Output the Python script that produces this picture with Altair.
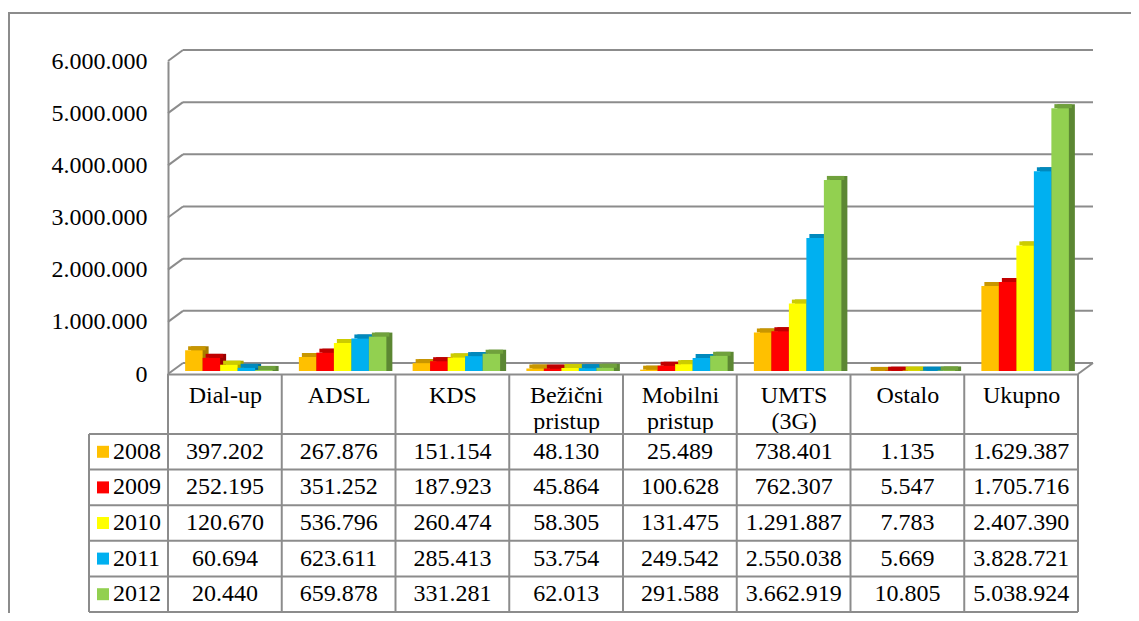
import altair as alt
import pandas as pd

# ---------------- data ----------------
categories = ["Dial-up", "ADSL", "KDS", "Bežični\npristup", "Mobilni\npristup",
              "UMTS\n(3G)", "Ostalo", "Ukupno"]
years = ["2008", "2009", "2010", "2011", "2012"]
v2008 = [397202, 267876, 151154, 48130, 25489, 738401, 1135, 1629387]
v2009 = [252195, 351252, 187923, 45864, 100628, 762307, 5547, 1705716]
v2010 = [120670, 536796, 260474, 58305, 131475, 1291887, 7783, 2407390]
v2011 = [60694, 623611, 285413, 53754, 249542, 2550038, 5669, 3828721]
v2012 = [20440, 659878, 331281, 62013, 291588, 3662919, 10805, 5038924]
y_ticks = [0, 1000000, 2000000, 3000000, 4000000, 5000000, 6000000]

colors_front = ["#FFC000", "#FF0000", "#FFFF00", "#00B0F0", "#92D050"]
colors_top = ["#C89600", "#C00000", "#CCCC00", "#0089BD", "#70A13C"]
colors_side = ["#A67C00", "#9A0000", "#A6A600", "#006F9A", "#5C8733"]

series = dict(zip(years, [v2008, v2009, v2010, v2011, v2012]))
df = pd.DataFrame([{"cat": c, "year": y, "value": v}
                   for y in years for c, v in zip(categories, series[y])])
ticks_df = pd.DataFrame({"value": y_ticks})
cats_df = pd.DataFrame({"cat": categories})
years_df = pd.DataFrame({"year": years})
one = pd.DataFrame({"value": [0]})

# ---------------- layout / style ----------------
W, H = 910, 313          # front plane of the plot
DX, DY = 15, 11          # depth of the back wall
BX, BY = 4, 3            # depth of bar front faces
TX, TY = 6, 4            # bar depth (top / side faces)
ROW_TOP, ROW_BOT = 373, 551
GRAY = "#8C8C8C"
FONT = "'Liberation Serif', 'Times New Roman', Times, serif"
FS = 24
fmt = "replace(format(datum.value, ','), regexp(',', 'g'), '.')"


def xs(shift=0):
    return alt.Scale(domain=categories, range=[shift, W + shift],
                     paddingInner=0, paddingOuter=0)


ys = alt.Scale(domain=[0, 6000000], nice=False, zero=True)
ty = alt.Scale(domain=years, range=[ROW_TOP, ROW_BOT], paddingInner=0, paddingOuter=0)
xoff = alt.Scale(domain=years, paddingInner=0, paddingOuter=0.75)

border = alt.Chart(one).mark_rect(fillOpacity=0, stroke=GRAY, strokeWidth=2).encode(
    x=alt.value(-159), x2=alt.value(W + 300), y=alt.value(-48), y2=alt.value(H + 400))

grid_back = alt.Chart(ticks_df).mark_rule(color=GRAY, strokeWidth=2, yOffset=-DY).encode(
    y=alt.Y("value:Q", scale=ys, axis=alt.Axis(
        values=y_ticks, labelExpr=fmt, labelFont=FONT, labelFontSize=FS,
        labelColor="black", ticks=False, tickSize=0, labelPadding=21,
        domain=True, domainColor=GRAY, domainWidth=2, grid=False, title=None)),
    x=alt.value(DX), x2=alt.value(W + DX))

grid_diag = alt.Chart(ticks_df).mark_rule(color=GRAY, strokeWidth=2, y2Offset=-DY).encode(
    y=alt.Y("value:Q", scale=ys, axis=None), y2=alt.Y2("value:Q"),
    x=alt.value(0), x2=alt.value(DX))

floor_right = alt.Chart(one).mark_rule(color=GRAY, strokeWidth=2, y2Offset=-DY).encode(
    y=alt.Y("value:Q", scale=ys, axis=None), y2=alt.Y2("value:Q"),
    x=alt.value(W), x2=alt.value(W + DX))


def bars(colors, shift, y_off, y2_off, top_only=False):
    enc = dict(
        x=alt.X("cat:N", scale=xs(shift), axis=None, sort=categories),
        xOffset=alt.XOffset("year:N", scale=xoff, sort=years),
        y=alt.Y("value:Q", scale=ys, axis=None, stack=None),
        color=alt.Color("year:N", scale=alt.Scale(domain=years, range=colors), legend=None),
    )
    enc["y2"] = alt.Y2("value:Q") if top_only else alt.datum(0)
    return alt.Chart(df).mark_bar(yOffset=y_off, y2Offset=y2_off).encode(**enc)


side = bars(colors_side, BX + TX, -(BY + TY), -BY)
top = bars(colors_top, BX + TX / 2, -(BY + TY), -BY, top_only=True)
front = bars(colors_front, BX, -BY, -BY)

cells = alt.Chart(df).transform_calculate(label=fmt).mark_text(
    font=FONT, fontSize=FS, color="black", baseline="middle").encode(
    x=alt.X("cat:N", scale=xs(0), sort=categories, axis=alt.Axis(
        orient="bottom", labelExpr="split(datum.label, '\\n')", labelFont=FONT,
        labelFontSize=FS, labelColor="black", labelLineHeight=26, labelBaseline="top",
        labelPadding=9, ticks=False, tickSize=0, domain=True, domainColor=GRAY,
        domainWidth=2, labelAngle=0, title=None)),
    y=alt.Y("year:N", scale=ty, axis=None),
    text="label:N")

v_lines = alt.Chart(cats_df).mark_rule(color=GRAY, strokeWidth=2).encode(
    x=alt.X("cat:N", scale=xs(0), bandPosition=0, axis=None, sort=categories),
    y=alt.value(H), y2=alt.value(ROW_BOT))
v_edges = alt.Chart(pd.DataFrame({"e": [-79, W]})).mark_rule(color=GRAY, strokeWidth=2).encode(
    x=alt.X("e:Q", scale=alt.Scale(domain=[0, W], range=[0, W]), axis=None),
    y=alt.value(ROW_TOP), y2=alt.value(ROW_BOT))
v_right = alt.Chart(one).mark_rule(color=GRAY, strokeWidth=2).encode(
    x=alt.value(W), y=alt.value(H), y2=alt.value(ROW_TOP))
h_lines = alt.Chart(years_df).mark_rule(color=GRAY, strokeWidth=2).encode(
    y=alt.Y("year:N", scale=ty, bandPosition=0, axis=None),
    x=alt.value(-79), x2=alt.value(W))
h_bottom = alt.Chart(pd.DataFrame({"year": [years[-1]]})).mark_rule(color=GRAY, strokeWidth=2).encode(
    y=alt.Y("year:N", scale=ty, bandPosition=1, axis=None),
    x=alt.value(-79), x2=alt.value(W))

leg_sq = alt.Chart(years_df).mark_square(size=144, opacity=1).encode(
    x=alt.value(-65),
    y=alt.Y("year:N", scale=ty, axis=None),
    color=alt.Color("year:N", scale=alt.Scale(domain=years, range=colors_front), legend=None))
leg_tx = alt.Chart(years_df).mark_text(font=FONT, fontSize=FS, color="black",
                                       align="left", baseline="middle").encode(
    x=alt.value(-55),
    y=alt.Y("year:N", scale=ty, axis=None),
    text="year:N")

chart = alt.layer(
    border, grid_back, grid_diag, floor_right, side, top, front,
    v_lines, v_edges, v_right, h_lines, h_bottom, cells, leg_sq, leg_tx
).resolve_scale(
    x="independent", y="independent", color="independent", xOffset="independent"
).properties(
    width=W, height=H,
    padding={"left": 160, "top": 53, "right": 53, "bottom": 239},
    autosize=alt.AutoSizeParams(type="none"),
    background="white",
).configure(font=FONT, view=alt.ViewConfig(stroke=None))

chart.save("out.html", embed_options={"renderer": "svg", "actions": False})
